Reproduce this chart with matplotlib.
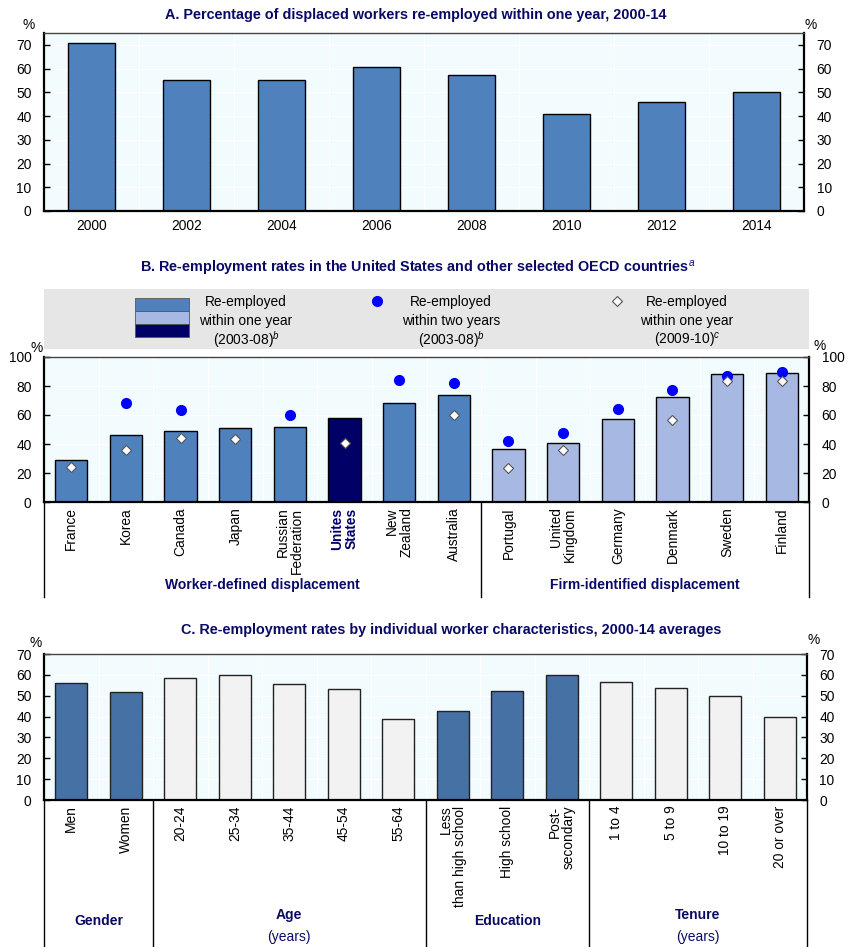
import numpy as np
import matplotlib
matplotlib.use("Agg")
import matplotlib.pyplot as plt
from matplotlib.patches import Rectangle
from matplotlib import font_manager

# ---------------------------------------------------------------- data
years = ["2000", "2002", "2004", "2006", "2008", "2010", "2012", "2014"]
reemp_one_year = [70.6, 55.1, 55.0, 60.8, 57.5, 40.8, 45.9, 50.1]

countries = ["France", "Korea", "Canada", "Japan", "Russian\nFederation",
             "Unites\nStates", "New\nZealand", "Australia", "Portugal",
             "United\nKingdom", "Germany", "Denmark", "Sweden", "Finland"]
one_year_0308 = [29.2, 45.9, 48.7, 50.8, 51.5, 58.0, 68.2, 73.7,
                 36.4, 40.6, 57.0, 72.1, 88.1, 89.3]
two_year_0308 = [np.nan, 68.4, 63.3, np.nan, 60.3, np.nan, 84.4, 81.9,
                 42.0, 47.3, 64.0, 77.2, 87.2, 89.5]
one_year_0910 = [24.1, 36.0, 43.8, 43.6, np.nan, 40.6, np.nan, 60.3,
                 23.2, 36.2, np.nan, 56.4, 83.3, 83.3]
country_groups = ["Worker-defined displacement", "Firm-identified displacement"]
n_worker_defined = 8

characteristics = ["Men", "Women", "20-24", "25-34", "35-44", "45-54", "55-64",
                   "Less\nthan high school", "High school", "Post-\nsecondary",
                   "1 to 4", "5 to 9", "10 to 19", "20 or over"]
char_rates = [56.0, 52.0, 58.5, 59.7, 55.8, 53.0, 38.9,
              42.6, 52.5, 59.8, 56.6, 53.7, 50.1, 39.7]
char_groups = [("Gender", None, 0, 2), ("Age", "(years)", 2, 7),
               ("Education", None, 7, 10), ("Tenure", "(years)", 10, 14)]

legend_entries = [
    ["Re-employed", "within one year", "(2003-08)$^{\\it{b}}$"],
    ["Re-employed", "within two years", "(2003-08)$^{\\it{b}}$"],
    ["Re-employed", "within one year", "(2009-10)$^{\\it{c}}$"],
]

# ---------------------------------------------------------------- style
W, H = 848, 947
BLUE = "#4F81BD"
LIGHT = "#A7B8E2"
NAVY = "#000066"
DARK_C = "#4671A5"
PALE = "#F2F2F2"
BG = "#F2FBFE"
TITLE = "#0A0A66"

names = {f.name for f in font_manager.fontManager.ttflist}
HAS_NARROW = "Liberation Sans Narrow" in names
NARROW = "Liberation Sans Narrow" if HAS_NARROW else "Liberation Sans"
TFS = 11.5 if HAS_NARROW else 10.4     # panel titles
GFS = 11.0 if HAS_NARROW else 10.0     # group captions
plt.rcParams["font.family"] = ["Liberation Sans", "DejaVu Sans"]
plt.rcParams["mathtext.fontset"] = "custom"
plt.rcParams["mathtext.rm"] = "Liberation Sans"
plt.rcParams["mathtext.it"] = "Liberation Sans:italic"
FS = 9.9

fig = plt.figure(figsize=(W / 100, H / 100), dpi=100)


def px_axes(l, t, r, b, **kw):
    return fig.add_axes([l / W, 1 - b / H, (r - l) / W, (b - t) / H], **kw)


def ftext(x, y, s, **kw):
    fig.text(x / W, 1 - y / H, s, **kw)


def style_axes(ax, ymax, step, n):
    ax.set_facecolor(BG)
    ax.set_xlim(-0.5, n - 0.5)
    ax.set_ylim(0, ymax)
    ax.set_yticks(np.arange(0, ymax + 0.1, step))
    for y in np.arange(step, ymax, step):
        ax.axhline(y, color="white", lw=1.0, zorder=0.5)
    for x in np.arange(0.5, n - 0.5, 1):
        ax.axvline(x, color="white", lw=1.0, zorder=0.5)
    for side in ("left", "right", "bottom"):
        ax.spines[side].set_linewidth(1.6)
        ax.spines[side].set_color("black")
    ax.spines["top"].set_linewidth(1.0)
    ax.spines["top"].set_color("#444444")
    ax.tick_params(axis="y", which="both", direction="in", length=4, width=1,
                   left=True, right=True, labelleft=True, labelright=True,
                   labelsize=FS, pad=9)
    ax.tick_params(axis="x", length=0, labelsize=FS)


# ---------------------------------------------------------------- panel A
axA = px_axes(44, 33, 804, 211)
style_axes(axA, 75, 10, len(years))
axA.set_yticks(np.arange(0, 71, 10))
xA = np.arange(len(years))
axA.bar(xA, reemp_one_year, width=0.5, color=BLUE, edgecolor="black",
        linewidth=1.0, zorder=2)
axA.set_xticks(xA)
axA.set_xticklabels(years)
axA.tick_params(axis="x", pad=6)
ftext(416, 15, "A. Percentage of displaced workers re-employed within one year, 2000-14",
      ha="center", va="center", fontsize=TFS, fontweight="bold", color=TITLE,
      family=NARROW)
ftext(29, 25, "%", ha="center", va="center", fontsize=FS)
ftext(811, 25, "%", ha="center", va="center", fontsize=FS)

# ---------------------------------------------------------------- panel B
ftext(418, 268, r"B. Re-employment rates in the United States and other selected OECD countries$^{\it{a}}$",
      ha="center", va="center", fontsize=TFS, fontweight="bold", color=TITLE,
      family=NARROW)

# legend strip
axL = px_axes(44, 289, 809, 349)
axL.set_xlim(44, 809)
axL.set_ylim(349, 289)
axL.set_facecolor("#E6E6E6")
for s in axL.spines.values():
    s.set_visible(False)
axL.set_xticks([])
axL.set_yticks([])
for i, c in enumerate([BLUE, LIGHT, NAVY]):
    axL.add_patch(Rectangle((135, 298 + i * 13), 54, 13, facecolor=c,
                            edgecolor="#555555", lw=0.6))
axL.plot([377], [301], "o", ms=7, color="#0000FF", mec="#0000FF")
axL.plot([617], [301], "D", ms=5.5, color="white", mec="#555555", mew=0.8)
for x, lines in zip([246, 451, 687], legend_entries):
    for k, line in enumerate(lines):
        axL.text(x, 302 + 19 * k, line, ha="center", va="center", fontsize=FS)

axB = px_axes(44, 357, 809, 502)
style_axes(axB, 100, 20, len(countries))
xB = np.arange(len(countries))
colors_B = [BLUE] * n_worker_defined + [LIGHT] * (len(countries) - n_worker_defined)
colors_B[countries.index("Unites\nStates")] = NAVY
axB.bar(xB, one_year_0308, width=0.59, color=colors_B, edgecolor="black",
        linewidth=1.0, zorder=2)
axB.plot(xB, two_year_0308, "o", ms=7, color="#0000FF", mec="#0000FF",
         linestyle="none", zorder=4)
axB.plot(xB, one_year_0910, "D", ms=5.5, color="white", mec="#555555",
         mew=0.8, linestyle="none", zorder=5)
axB.set_xticks(xB)
axB.set_xticklabels(countries, rotation=90, va="top", ha="center",
                    multialignment="right", linespacing=1.0)
axB.tick_params(axis="x", pad=4)
us_label = axB.get_xticklabels()[countries.index("Unites\nStates")]
us_label.set_color(NAVY)
us_label.set_fontweight("bold")
ftext(37, 348, "%", ha="center", va="center", fontsize=FS)
ftext(820, 346, "%", ha="center", va="center", fontsize=FS)

xfB = axB.get_xaxis_transform()
below_B = -95 / 145
for x in (-0.5, n_worker_defined - 0.5, len(countries) - 0.5):
    axB.plot([x, x], [0, below_B], transform=xfB, color="black", lw=1.0,
             clip_on=False)
grp_y_B = -83 / 145
axB.text((n_worker_defined - 1) / 2, grp_y_B, country_groups[0], transform=xfB,
         ha="center", va="center", fontsize=GFS, fontweight="bold",
         color=TITLE, family=NARROW)
axB.text((n_worker_defined + len(countries) - 1) / 2, grp_y_B, country_groups[1],
         transform=xfB, ha="center", va="center", fontsize=GFS,
         fontweight="bold", color=TITLE, family=NARROW)

# ---------------------------------------------------------------- panel C
ftext(451, 630, "C. Re-employment rates by individual worker characteristics, 2000-14 averages",
      ha="center", va="center", fontsize=TFS, fontweight="bold", color=TITLE,
      family=NARROW)
axC = px_axes(44, 654, 807, 800)
style_axes(axC, 70, 10, len(characteristics))
xC = np.arange(len(characteristics))
colors_C = []
for name, _, a, b in char_groups:
    colors_C += [DARK_C if name in ("Gender", "Education") else PALE] * (b - a)
axC.bar(xC, char_rates, width=0.59, color=colors_C, edgecolor="#222222",
        linewidth=1.0, zorder=2)
axC.set_xticks(xC)
axC.set_xticklabels(characteristics, rotation=90, va="top", ha="center",
                    multialignment="right", linespacing=1.0)
axC.tick_params(axis="x", pad=4)
ftext(36, 643, "%", ha="center", va="center", fontsize=FS)
ftext(814, 640, "%", ha="center", va="center", fontsize=FS)

xfC = axC.get_xaxis_transform()
below_C = -1.01
for x in [-0.5] + [g[3] - 0.5 for g in char_groups]:
    axC.plot([x, x], [0, below_C], transform=xfC, color="black", lw=1.0,
             clip_on=False)
for name, sub, a, b in char_groups:
    cx = (a + b - 1) / 2
    if sub is None:
        axC.text(cx, -121 / 146, name, transform=xfC, ha="center", va="center",
                 fontsize=GFS, fontweight="bold", color=TITLE, family=NARROW)
    else:
        axC.text(cx, -115 / 146, name, transform=xfC, ha="center", va="center",
                 fontsize=GFS, fontweight="bold", color=TITLE, family=NARROW)
        axC.text(cx, -137 / 146, sub, transform=xfC, ha="center", va="center",
                 fontsize=GFS, color=TITLE, family=NARROW)

fig.savefig("out.png", dpi=100, facecolor="white")
